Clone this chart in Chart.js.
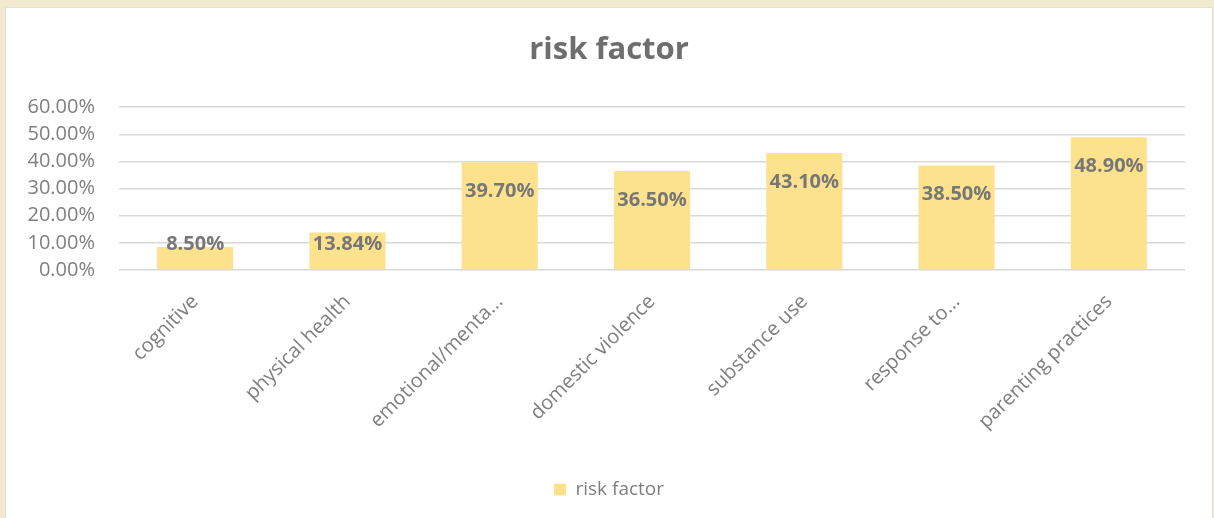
<!DOCTYPE html>
<html>
<head>
<meta charset="utf-8">
<script src="https://cdn.jsdelivr.net/npm/chart.js@4.4.1/dist/chart.umd.min.js"></script>
<style>
  html, body { margin: 0; padding: 0; background: #f1ead0; width: 1214px; height: 518px; overflow: hidden; }
  #panel { position: absolute; left: 6px; top: 8px; width: 1206px; height: 510px; background: #ffffff;
           box-shadow: 0 0 0 1px #e4e2dc; }
  canvas { display: block; }
</style>
</head>
<body>
<div id="panel"><canvas id="chart" width="1206" height="510"></canvas></div>
<script>
// Categories and values (percent)
const categories = [
  'cognitive',
  'physical health',
  'emotional/menta...',
  'domestic violence',
  'substance use',
  'response to...',
  'parenting practices'
];
const riskFactor = [8.50, 13.84, 39.70, 36.50, 43.10, 38.50, 48.90];
const yTicks = [0, 10, 20, 30, 40, 50, 60];

const FONT = '"Open Sans", Lato, sans-serif';
const GREY = '#7f7f7f';
const BAR = '#fde28e';

const fmt = v => v.toFixed(2) + '%';

// Value labels drawn inside the top of each bar
const valueLabels = {
  id: 'valueLabels',
  afterDatasetsDraw(chart) {
    const ctx = chart.ctx;
    const meta = chart.getDatasetMeta(0);
    ctx.save();
    ctx.font = 'bold 20px ' + FONT;
    ctx.fillStyle = '#777777';
    ctx.textAlign = 'center';
    ctx.textBaseline = 'middle';
    meta.data.forEach((bar, i) => {
      const y = Math.min(bar.y + 29, bar.base - 25);
      ctx.fillText(fmt(chart.data.datasets[0].data[i]), bar.x, y);
    });
    ctx.restore();
  }
};

new Chart(document.getElementById('chart'), {
  type: 'bar',
  data: {
    labels: categories,
    datasets: [{
      label: 'risk factor',
      data: riskFactor,
      backgroundColor: BAR,
      borderWidth: 0,
      categoryPercentage: 1.0,
      barPercentage: 0.5
    }]
  },
  options: {
    responsive: false,
    animation: false,
    layout: { padding: { left: 0, right: 0, top: 0, bottom: 9 } },
    plugins: {
      title: {
        display: true,
        text: 'risk factor',
        color: '#6e6e6e',
        font: { family: FONT, size: 31, weight: 'bold' },
        padding: { top: 24, bottom: 38 }
      },
      legend: {
        display: true,
        position: 'bottom',
        labels: {
          color: GREY,
          font: { family: FONT, size: 19 },
          boxWidth: 12,
          boxHeight: 12,
          padding: 10
        }
      },
      tooltip: { enabled: false }
    },
    scales: {
      x: {
        grid: { display: false },
        border: { display: false },
        ticks: {
          color: GREY,
          font: { family: FONT, size: 20 },
          minRotation: 45,
          maxRotation: 45,
          padding: 12,
          autoSkip: false
        },
        afterFit(scale) { scale.height = 200; }
      },
      y: {
        min: 0,
        max: 60,
        afterBuildTicks(scale) { scale.ticks = yTicks.map(v => ({ value: v })); },
        grid: { color: '#d9d9d9', lineWidth: 1.6, drawTicks: false },
        border: { display: false },
        ticks: {
          color: GREY,
          font: { family: FONT, size: 20 },
          padding: 24,
          autoSkip: false,
          callback: v => fmt(v)
        },
        afterFit(scale) { scale.width = 113; }
      },
      // empty right-hand margin so the plot area stops short of the panel edge
      margin: {
        type: 'linear',
        position: 'right',
        grid: { display: false },
        border: { display: false },
        ticks: { display: false },
        afterFit(scale) { scale.width = 27; }
      }
    }
  },
  plugins: [valueLabels]
});
</script>
</body>
</html>
